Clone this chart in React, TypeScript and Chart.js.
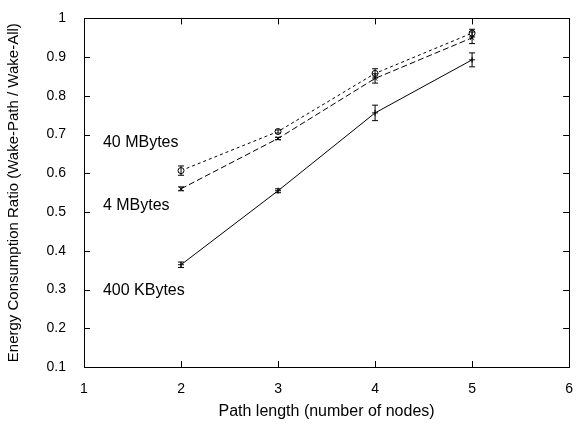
import React, { useEffect, useRef } from "react";
import { Chart, registerables } from "chart.js";

Chart.register(...registerables);

const pathLengths = [2, 3, 4, 5];
const kb400 = [0.364, 0.555, 0.756, 0.893];
const kb400Err = [0.007, 0.005, 0.02, 0.018];
const mb4 = [0.56, 0.69, 0.845, 0.95];
const mb4Err = [0.005, 0.003, 0.012, 0.015];
const mb40 = [0.607, 0.708, 0.858, 0.962];
const mb40Err = [0.012, 0.004, 0.012, 0.01];
const seriesLabels = ["400 KBytes", "4 MBytes", "40 MBytes"];
const labelX = [1.195, 1.195, 1.195];
const labelY = [0.297, 0.518, 0.68];
const xTicks = [1, 2, 3, 4, 5, 6];
const yTicks = [0.1, 0.2, 0.3, 0.4, 0.5, 0.6, 0.7, 0.8, 0.9, 1];

const FONT = "'Liberation Sans', Arial, sans-serif";

const errs = [kb400Err, mb4Err, mb40Err];

const framePlugin = {
  id: "frame",
  afterDatasetsDraw(chart: any) {
    const { ctx, chartArea, scales } = chart;
    const x = scales.x;
    const y = scales.y;
    ctx.save();
    ctx.strokeStyle = "#000";
    ctx.lineWidth = 1;
    ctx.setLineDash([]);
    chart.data.datasets.forEach((ds: any, i: number) => {
      const e = errs[i];
      ds.data.forEach((p: any, j: number) => {
        const px = x.getPixelForValue(p.x);
        const top = y.getPixelForValue(p.y + e[j]);
        const bot = y.getPixelForValue(p.y - e[j]);
        ctx.beginPath();
        ctx.moveTo(px, top);
        ctx.lineTo(px, bot);
        ctx.moveTo(px - 3, top);
        ctx.lineTo(px + 3, top);
        ctx.moveTo(px - 3, bot);
        ctx.lineTo(px + 3, bot);
        ctx.stroke();
      });
    });
    ctx.strokeRect(
      Math.round(chartArea.left) + 0.5,
      Math.round(chartArea.top) + 0.5,
      Math.round(chartArea.right - chartArea.left),
      Math.round(chartArea.bottom - chartArea.top)
    );
    ctx.beginPath();
    xTicks.forEach((v) => {
      const px = Math.round(x.getPixelForValue(v)) + 0.5;
      ctx.moveTo(px, chartArea.bottom);
      ctx.lineTo(px, chartArea.bottom - 6);
      ctx.moveTo(px, chartArea.top);
      ctx.lineTo(px, chartArea.top + 6);
    });
    yTicks.forEach((v) => {
      const py = Math.round(y.getPixelForValue(v)) + 0.5;
      ctx.moveTo(chartArea.left, py);
      ctx.lineTo(chartArea.left + 6, py);
      ctx.moveTo(chartArea.right, py);
      ctx.lineTo(chartArea.right - 6, py);
    });
    ctx.stroke();
    ctx.fillStyle = "#000";
    ctx.font = `16px ${FONT}`;
    ctx.textAlign = "left";
    ctx.textBaseline = "middle";
    seriesLabels.forEach((t, i) => {
      ctx.fillText(t, x.getPixelForValue(labelX[i]), y.getPixelForValue(labelY[i]));
    });
    ctx.restore();
  },
};

export default function App() {
  const ref = useRef<HTMLCanvasElement>(null);
  useEffect(() => {
    if (!ref.current) return;
    const mk = (arr: number[]) => arr.map((v, i) => ({ x: pathLengths[i], y: v }));
    const chart = new Chart(ref.current, {
      type: "line",
      data: {
        datasets: [
          {
            label: seriesLabels[0],
            data: mk(kb400),
            borderColor: "#000",
            borderWidth: 1,
            pointStyle: "cross",
            pointRadius: 3,
            pointBorderColor: "#000",
            pointBorderWidth: 1,
          },
          {
            label: seriesLabels[1],
            data: mk(mb4),
            borderColor: "#000",
            borderWidth: 1,
            borderDash: [6, 3],
            pointStyle: "crossRot",
            pointRadius: 3,
            pointBorderColor: "#000",
            pointBorderWidth: 1,
          },
          {
            label: seriesLabels[2],
            data: mk(mb40),
            borderColor: "#000",
            borderWidth: 1,
            borderDash: [3, 3],
            pointStyle: "circle",
            pointRadius: 3,
            pointBackgroundColor: "#fff",
            pointBorderColor: "#000",
            pointBorderWidth: 1,
          },
        ],
      },
      options: {
        animation: false,
        responsive: false,
        devicePixelRatio: 1,
        layout: { padding: { top: 17, right: 7, left: 0, bottom: 0 } },
        plugins: { legend: { display: false }, tooltip: { enabled: false } },
        scales: {
          x: {
            type: "linear",
            min: 1,
            max: 6,
            grid: { display: false },
            border: { display: false },
            afterBuildTicks: (s: any) => {
              s.ticks = xTicks.map((v) => ({ value: v }));
            },
            afterFit: (s: any) => {
              s.height = 57;
            },
            ticks: {
              color: "#000",
              font: { family: FONT, size: 14 },
              padding: 6,
              maxRotation: 0,
              callback: (v: any) => String(v),
            },
            title: {
              display: true,
              text: "Path length (number of nodes)",
              color: "#000",
              font: { family: FONT, size: 16 },
              padding: { top: 4, bottom: 3 },
            },
          },
          y: {
            type: "linear",
            min: 0.1,
            max: 1,
            grid: { display: false },
            border: { display: false },
            afterBuildTicks: (s: any) => {
              s.ticks = yTicks.map((v) => ({ value: v }));
            },
            afterFit: (s: any) => {
              s.width = 84;
            },
            ticks: {
              color: "#000",
              font: { family: FONT, size: 14 },
              padding: 10,
              callback: (v: any) => String(Number(Number(v).toFixed(1))),
            },
            title: {
              display: true,
              text: "Energy Consumption Ratio (Wake-Path / Wake-All)",
              color: "#000",
              font: { family: FONT, size: 15 },
              padding: { top: 5, bottom: 0 },
            },
          },
        },
      },
      plugins: [framePlugin],
    } as any);
    return () => chart.destroy();
  }, []);
  return (
    <div style={{ position: "absolute", left: 0, top: 0, width: 579, height: 424, background: "#fff" }}>
      <canvas ref={ref} width={579} height={424} />
    </div>
  );
}
